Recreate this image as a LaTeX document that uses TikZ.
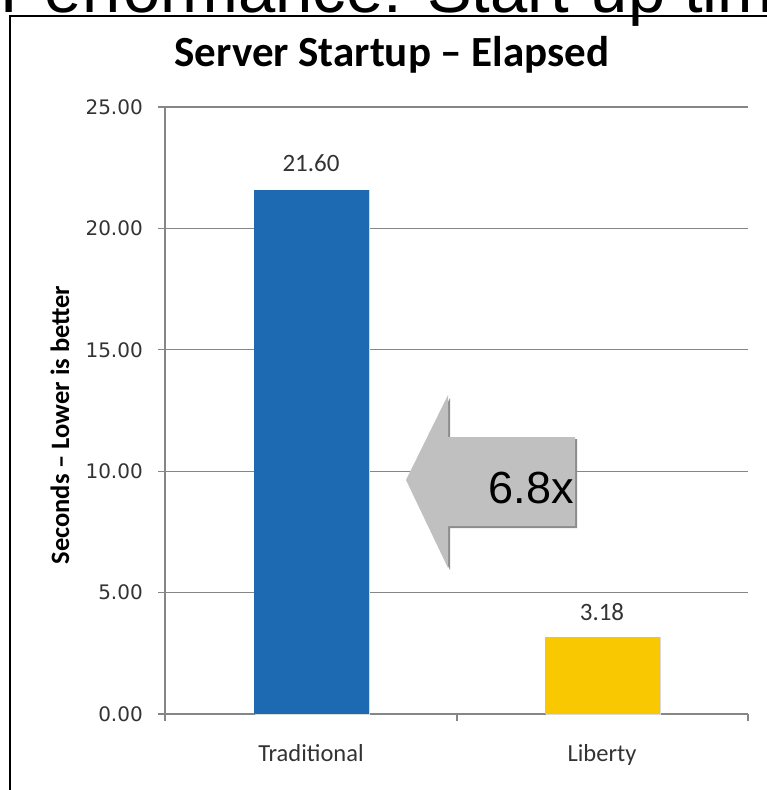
\documentclass[tikz,border=0pt]{standalone}
\usepackage{fontspec}
\setmainfont{Carlito}
\newfontfamily\ticksfont{DejaVu Sans}
\newfontfamily\arialfont{Liberation Sans}
\definecolor{gridgray}{HTML}{868686}
\definecolor{barblue}{HTML}{1E6AB2}
\definecolor{baryellow}{HTML}{FAC800}
\definecolor{arrowgray}{HTML}{C0C0C0}
\definecolor{shadowgray}{HTML}{8C8C8C}
\definecolor{labelgray}{HTML}{333333}
\tikzset{
  gridline/.style={draw=gridgray, line width=1.2pt},
  ticklabel/.style={anchor=east, inner sep=0pt, text=labelgray, font=\ticksfont\fontsize{20}{20}\selectfont},
  vallabel/.style={anchor=base, inner sep=0pt, text=labelgray, font=\fontsize{25}{25}\selectfont},
  catlabel/.style={anchor=base, inner sep=0pt, text=labelgray, font=\fontsize{24.5}{24.5}\selectfont},
  barbox/.style={anchor=south west, inner sep=0pt, outer sep=0pt, minimum width=115pt},
}
\begin{document}
\begin{tikzpicture}[x=1pt, y=-1pt]
\useasboundingbox (0,0) rectangle (767,790);
\begin{scope}
\clip (0,0) rectangle (767,790);
% cut-off heading
\node[anchor=base west, inner sep=0pt, font=\arialfont\fontsize{67}{67}\selectfont] (heading) at (0,12) {Performance: Start-up time};
% frame
\draw[line width=2pt] (10,820) -- (10,16) -- (800,16);
\end{scope}
% title
\node[anchor=base, inner sep=0pt, font=\bfseries\fontsize{43}{43}\selectfont] (title) at (392,66) {Server Startup – Elapsed};
% gridlines and ticks
\foreach \v/\lab in {0/0.00,5/5.00,10/10.00,15/15.00,20/20.00,25/25.00}{
  \coordinate (g\v) at (158,{714-24.28*\v});
  \coordinate (ge\v) at (748,{714-24.28*\v});
  \draw[gridline] (g\v) -- (ge\v);
  \node[ticklabel] (t\v) at (143,{714-24.28*\v}) {\lab};
}
% axes
\coordinate (ytop) at (165,107);
\coordinate (ybot) at (165,721);
\draw[gridline] (ytop) -- (ybot);
\coordinate (xt1) at (457,714); \coordinate (xt1b) at (457,721);
\coordinate (xt2) at (748,714); \coordinate (xt2b) at (748,721);
\draw[gridline] (xt1) -- (xt1b);
\draw[gridline] (xt2) -- (xt2b);
% bars
\fill[black!15] (255,190) rectangle (370,715);
\node[barbox, fill=barblue, minimum height=524pt] (bar1) at (254,714) {};
\fill[black!15] (546,637) rectangle (661,715);
\node[barbox, fill=baryellow, minimum height=77pt] (bar2) at (545,714) {};
% value labels
\node[vallabel] (v1) at (311,171) {21.60};
\node[vallabel] (v2) at (602,620) {3.18};
% category labels
\node[catlabel] (c1) at (311,761) {Traditional};
\node[catlabel] (c2) at (602,761) {Liberty};
% axis title
\node[rotate=90, inner sep=0pt, font=\bfseries\fontsize{26.5}{26.5}\selectfont] (ytitle) at (60,425) {Seconds – Lower is better};
% big arrow
\fill[shadowgray] (408,482) -- (450,398) -- (450,439) -- (577,439) -- (577,528) -- (450,528) -- (450,570) -- cycle;
\fill[arrowgray] (406,480) -- (448,395) -- (448,437) -- (575,437) -- (575,526) -- (448,526) -- (448,568) -- cycle;
\node[anchor=base east, inner sep=0pt, font=\arialfont\fontsize{45}{45}\selectfont] (factor) at (574,503) {6.8x};
\end{tikzpicture}
\end{document}
